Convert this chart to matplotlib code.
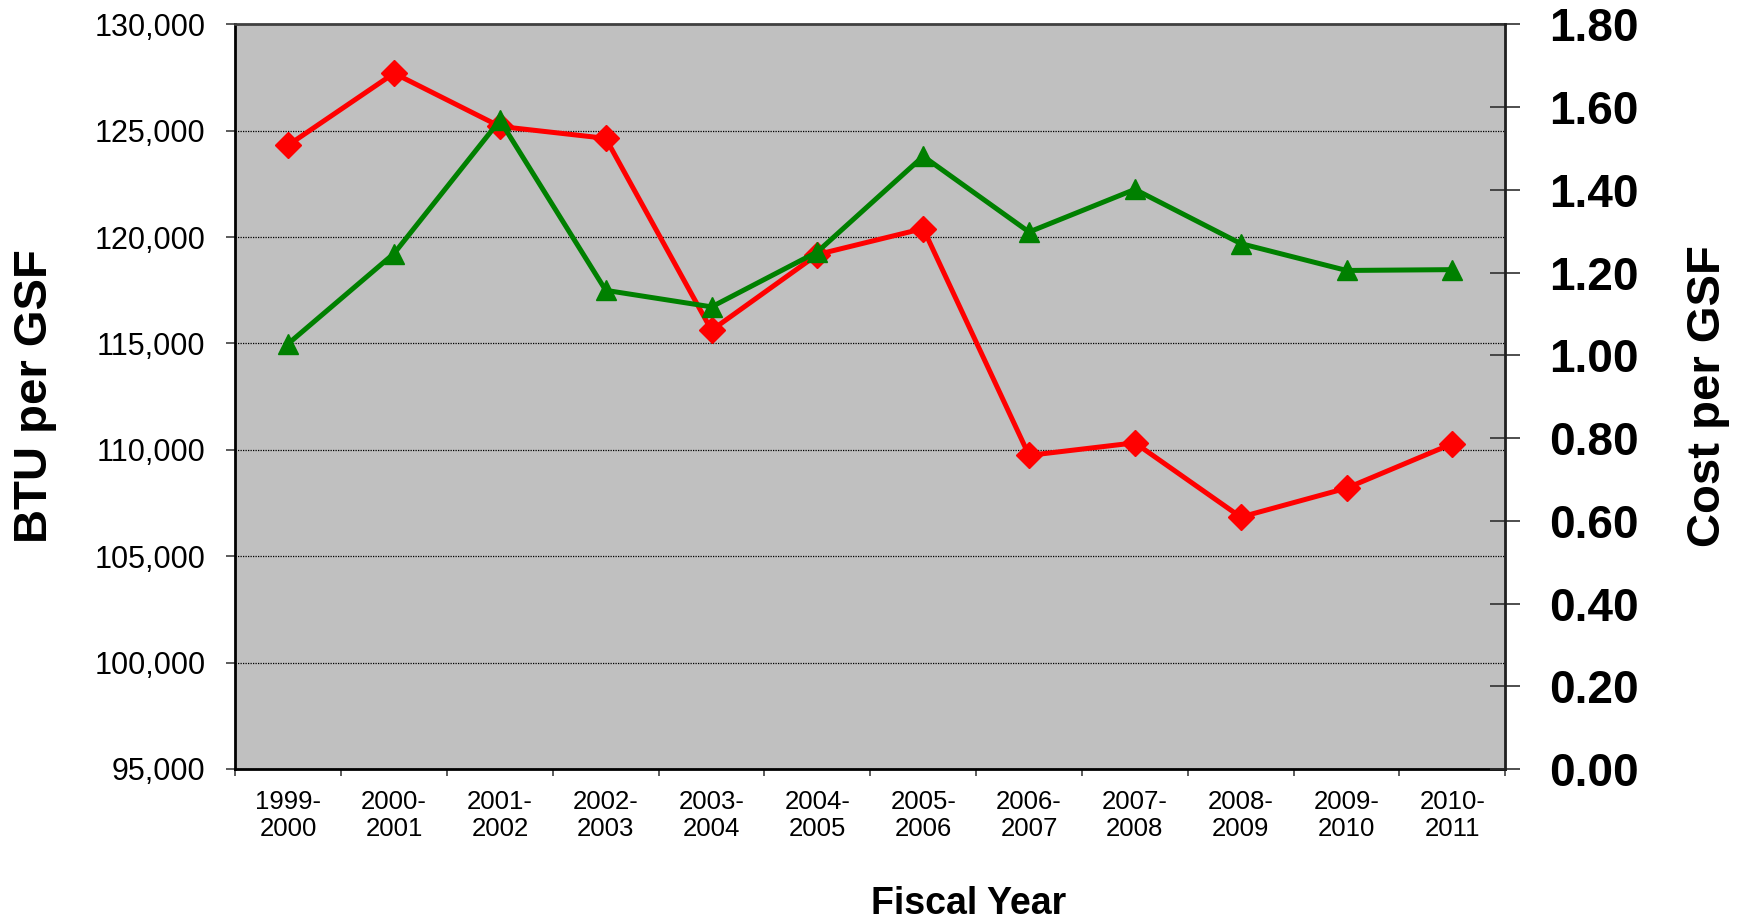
import matplotlib
matplotlib.use("Agg")
import matplotlib.pyplot as plt
from matplotlib.ticker import FixedLocator, FuncFormatter

plt.rcParams['font.family'] = ['Liberation Sans', 'DejaVu Sans']

years = ["1999-\n2000", "2000-\n2001", "2001-\n2002", "2002-\n2003", "2003-\n2004",
         "2004-\n2005", "2005-\n2006", "2006-\n2007", "2007-\n2008", "2008-\n2009",
         "2009-\n2010", "2010-\n2011"]
btu = [124320, 127700, 125200, 124640, 115620, 119180, 120400, 109740, 110330,
       106840, 108200, 110290]
cost = [1.028, 1.246, 1.568, 1.157, 1.117, 1.250, 1.481, 1.298, 1.401, 1.270,
        1.205, 1.207]

W, H = 1742, 924
fig = plt.figure(figsize=(W/100, H/100), dpi=100)
left, right, top, bottom = 235.3, 1505.3, 24.3, 769
ax = fig.add_axes([left/W, 1-bottom/H, (right-left)/W, (bottom-top)/H])
ax.set_facecolor("#C0C0C0")
x = list(range(len(years)))

ax.plot(x, btu, color="#FF0000", lw=3.6, marker="D", markersize=13, zorder=3)
ax.set_xlim(-0.5, len(years)-0.5)
ax.set_ylim(95000, 130000)
ax.set_yticks(range(95000, 130001, 5000))
ax.yaxis.set_major_formatter(FuncFormatter(lambda v, p: f"{int(v):,}"))
ax.grid(axis="y", color="black", linestyle=(0, (1, 1)), linewidth=0.9, zorder=1)
ax.set_axisbelow(True)

ax.set_xticks(x)
ax.set_xticklabels(years, fontsize=18.5, linespacing=1.17)
ax.xaxis.set_minor_locator(FixedLocator([i - 0.5 for i in range(len(years)+1)]))
ax.tick_params(axis="x", which="major", length=0, pad=15)
ax.tick_params(axis="x", which="minor", length=5, width=1.2, color="#404040")
ax.tick_params(axis="y", labelsize=22, length=6.5, width=1.2, pad=15, color="#404040")

for s in ["left", "bottom"]:
    ax.spines[s].set_linewidth(2)
    ax.spines[s].set_color("black")
ax.spines["top"].set_linewidth(2)
ax.spines["top"].set_color("#404040")

ax2 = ax.twinx()
ax2.plot(x, cost, color="#008000", lw=3.6, marker="^", markersize=15, zorder=3)
ax2.set_ylim(0, 1.8)
ax2.set_yticks([i * 0.2 for i in range(10)])
ax2.yaxis.set_major_formatter(FuncFormatter(lambda v, p: f"{v:.2f}"))
ax2.tick_params(axis="y", direction="inout", length=21, width=1.2, pad=21,
                labelsize=33, color="#303030")
for lab in ax2.get_yticklabels():
    lab.set_fontweight("bold")
ax2.spines["right"].set_linewidth(2)
ax2.spines["right"].set_color("#202020")
for s in ["left", "bottom", "top"]:
    ax2.spines[s].set_visible(False)

fig.text(35/W, 1-396/H, "BTU per GSF", rotation=90, fontsize=34,
         fontweight="bold", ha="center", va="center")
fig.text(1708/W, 1-396/H, "Cost per GSF", rotation=90, fontsize=34,
         fontweight="bold", ha="center", va="center")
fig.text(969/W, 1-904/H, "Fiscal Year", fontsize=27, fontweight="bold",
         ha="center", va="center")

fig.savefig("out.png", dpi=100)
